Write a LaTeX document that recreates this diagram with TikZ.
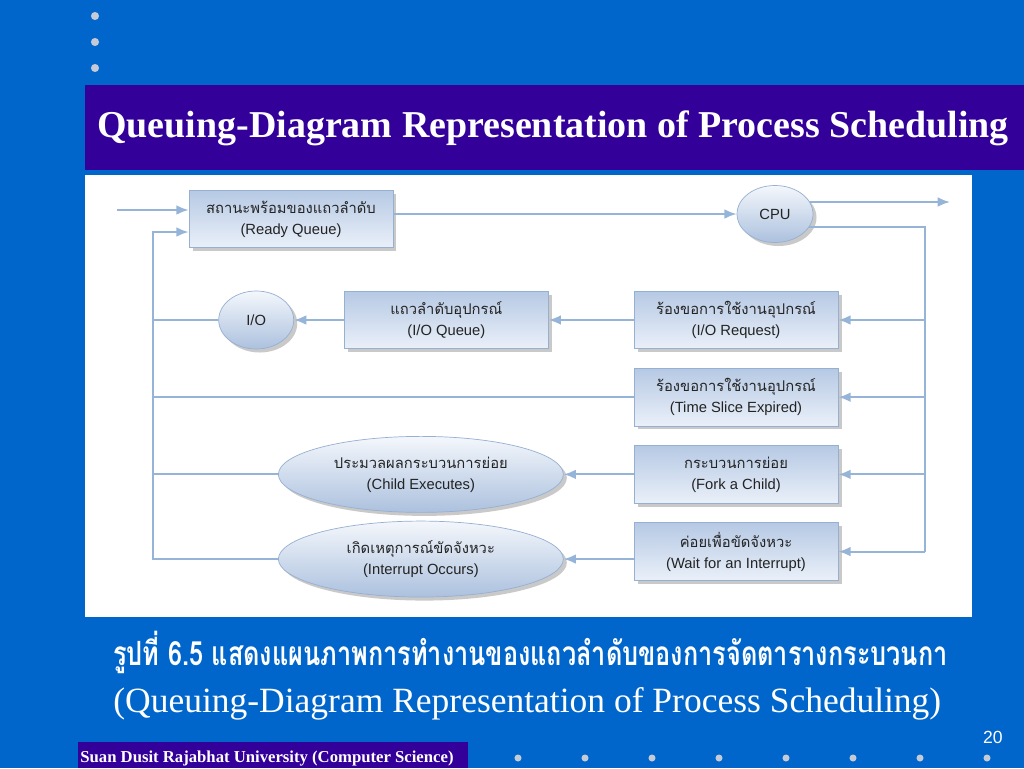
\documentclass[tikz,border=0pt]{standalone}
\usepackage{fontspec}
\setmainfont{Liberation Serif}
\setsansfont{Liberation Sans}
\newfontfamily\thaifont[Script=Thai]{Loma}
\usetikzlibrary{shapes,arrows.meta}
\usetikzlibrary{positioning,shadows}

\definecolor{slidebg}{RGB}{0,102,204}
\definecolor{titlebar}{RGB}{51,0,153}
\definecolor{dotgray}{RGB}{196,202,214}
\definecolor{linkblue}{RGB}{150,180,216}
\definecolor{boxtop}{RGB}{182,201,228}
\definecolor{boxbot}{RGB}{234,240,249}
\definecolor{ovaltop}{RGB}{244,247,252}
\definecolor{ovalbot}{RGB}{172,193,222}
\definecolor{boxedge}{RGB}{150,176,210}
\definecolor{labelgray}{RGB}{35,35,35}

\newcommand\duo[2]{{\thaifont #1}\\{\sffamily #2}}

\tikzset{
  box/.style={draw=boxedge, top color=boxtop, bottom color=boxbot,
    minimum width=4.08cm, minimum height=1.15cm, inner sep=0pt, align=center,
    text=labelgray, font=\fontsize{8.4}{12}\selectfont,
    drop shadow={shadow xshift=2pt, shadow yshift=-2pt, fill=black!60, opacity=.35}},
  oval/.style={ellipse, draw=boxedge, top color=ovaltop, bottom color=ovalbot,
    inner sep=0pt, align=center, text=labelgray, font=\fontsize{8.4}{12}\selectfont,
    drop shadow={shadow xshift=2pt, shadow yshift=-2pt, fill=black!60, opacity=.35}},
  link/.style={draw=linkblue, line width=1.1pt},
}

\begin{document}
\begin{tikzpicture}[x=0.02cm,y=-0.02cm,>={Latex[length=7pt,width=5.5pt]}]
\useasboundingbox (0,0) rectangle (1024,768);
% slide
\fill[slidebg] (0,0) rectangle (1024,768);
\foreach \y in {16,42,68} \fill[dotgray] (95,\y) circle (2.3pt);
\fill[titlebar] (85,85) rectangle (1024,170);
\node[anchor=base west, text=white, inner sep=0pt, font=\bfseries\fontsize{21.6}{24}\selectfont] (title) at (97,137) {Queuing-Diagram Representation of Process Scheduling};
\fill[white] (85,175) rectangle (972,617);

% queues and devices
\node[box] (ready) at (291,219) {\duo{สถานะพร้อมของแถวลำดับ}{(Ready Queue)}};
\node[oval, minimum width=1.52cm, minimum height=1.14cm] (cpu) at (775,214) {\sffamily CPU};
\node[box] (iorq) at (736,320) {\duo{ร้องขอการใช้งานอุปกรณ์}{(I/O Request)}};
\node[box, left=1.7cm of iorq] (ioq) {\duo{แถวลำดับอุปกรณ์}{(I/O Queue)}};
\node[oval, minimum width=1.5cm, minimum height=1.16cm, left=1cm of ioq] (io) {\sffamily I/O};
\node[box, below=0.38cm of iorq] (tslice) {\duo{ร้องขอการใช้งานอุปกรณ์}{(Time Slice Expired)}};
\node[box, below=0.38cm of tslice] (fork) {\duo{กระบวนการย่อย}{(Fork a Child)}};
\node[box, below=0.38cm of fork] (wait) {\duo{ค่อยเพื่อขัดจังหวะ}{(Wait for an Interrupt)}};
\node[oval, minimum width=5.7cm, minimum height=1.52cm, left=1.4cm of fork] (child) {\duo{ประมวลผลกระบวนการย่อย}{(Child Executes)}};
\node[oval, minimum width=5.7cm, minimum height=1.52cm, left=1.4cm of wait, yshift=-0.15cm] (intr) {\duo{เกิดเหตุการณ์ขัดจังหวะ}{(Interrupt Occurs)}};

\coordinate (in) at (117,210);
\coordinate (out) at (950,202);
\coordinate (lx) at (153,232);
\coordinate (rx) at (925,0);

\draw[link,->] (in) -- (in -| ready.west);
\draw[link,->] (cpu.west -| ready.east) -- (cpu.west);
\draw[link,->] (cpu.19) -- (cpu.19 -| out);
\draw[link] (cpu.-21) -| (wait.east -| rx);
\foreach \n in {iorq,tslice,fork,wait}
  \draw[link,->] (\n.east -| rx) -- (\n.east);
\draw[link,->] (iorq) -- (ioq);
\draw[link,->] (ioq) -- (io);
\draw[link,->] (fork) -- (child);
\draw[link,->] (intr.east -| wait.west) -- (intr.east);
\draw[link,->] (intr.west) -| (lx) -- (lx -| ready.west);
\foreach \n in {io,tslice,child}
  \draw[link] (\n.west) -- (\n.west -| lx);

% caption and footer
\node[anchor=base west, text=white, inner sep=0pt, font=\fontsize{19}{22}\selectfont] (capth) at (113,665) {\thaifont\bfseries\scalebox{0.757}[1]{รูปที่ 6.5 แสดงแผนภาพการทำงานของแถวลำดับของการจัดตารางกระบวนกา}};
\node[anchor=base west, text=white, inner sep=0pt, font=\fontsize{20.2}{22}\selectfont] (capen) at (113,712) {(Queuing-Diagram Representation of Process Scheduling)};
\fill[titlebar] (78,742) rectangle (468,768);
\node[anchor=base west, text=white, inner sep=0pt, font=\bfseries\fontsize{9.5}{10}\selectfont] (uni) at (80,762) {Suan Dusit Rajabhat University (Computer Science)};
\node[anchor=base east, text=white, inner sep=0pt, font=\sffamily\fontsize{10}{10}\selectfont] (pg) at (1003,743) {20};
\foreach \i in {0,...,7} \fill[dotgray] (518+67*\i,758) circle (2pt);
\end{tikzpicture}
\end{document}
